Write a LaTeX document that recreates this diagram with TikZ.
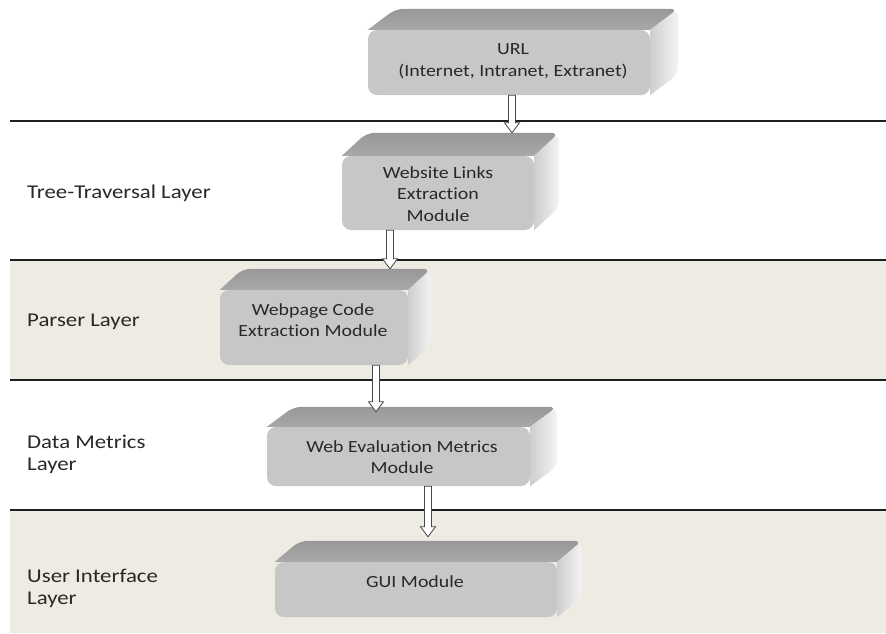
\documentclass[tikz,border=0pt]{standalone}
\usepackage{fontspec}
\setmainfont{Carlito}[FakeStretch=1.17, RawFeature={-liga}]
\usetikzlibrary{calc}
\pgfdeclarelayer{bands}
\pgfdeclarelayer{faces}
\pgfsetlayers{bands,faces,main}
\definecolor{bandfill}{RGB}{238,235,226}
\definecolor{frontgray}{RGB}{199,199,199}
\definecolor{topdark}{RGB}{152,152,152}
\definecolor{toplight}{RGB}{168,168,168}
\definecolor{sidein}{RGB}{206,206,206}
\definecolor{sideout}{RGB}{244,244,244}
\definecolor{inktext}{RGB}{40,40,40}

% bevelled 3D slab behind a front node: #1 node name, #2 depth x, #3 depth y
\newcommand\slabfaces[3]{%
  \begin{pgfonlayer}{faces}
    \path[top color=topdark, bottom color=toplight]
      (#1.north west) [rounded corners=8pt] -- ++(#2,-#3)
      -- ([shift={(#2,-#3)}]#1.north east) [sharp corners] -- (#1.north east) -- cycle;
    \path[left color=sidein, right color=sideout]
      (#1.north east) [rounded corners=8pt] -- ([shift={(#2,-#3)}]#1.north east)
      -- ([shift={(#2,-#3)}]#1.south east) [sharp corners] -- (#1.south east) -- cycle;
  \end{pgfonlayer}
  \coordinate (#1-back) at ([shift={(#2,-#3)}]#1.north);
}

\begin{document}
\begin{tikzpicture}[x=1pt,y=-1pt,
  rule/.style={draw=black!88, line width=1.3pt},
  layername/.style={anchor=west, align=left, inner sep=0pt,
    font=\fontsize{19.5}{22}\selectfont, text=inktext},
  slabfront/.style={fill=frontgray, rounded corners=9pt, inner sep=0pt},
  modtext/.style={align=center, inner sep=0pt,
    font=\fontsize{17}{21.5}\selectfont, text=inktext},
  hollow/.style={draw=black!72, fill=white, line width=0.8pt, line join=miter,
    to path={let \p1=(\tikztostart), \p2=(\tikztotarget) in
      (\x1-3.5pt,\y1) -- (\x1-3.5pt,\y2+10pt) -- (\x1-7.5pt,\y2+10pt)
      -- (\x1,\y2) -- (\x1+7.5pt,\y2+10pt) -- (\x1+3.5pt,\y2+10pt)
      -- (\x1+3.5pt,\y1) -- cycle}}
]
\useasboundingbox (0,0) rectangle (886,633);

% layer bands and separating rules
\begin{pgfonlayer}{bands}
  \fill[white] (0,0) rectangle (886,633);
  \fill[bandfill] (10,260) rectangle (886,380);
  \fill[bandfill] (10,510) rectangle (886,633);
  \draw[rule] (10,121) -- (886,121);
  \draw[rule] (10,260) -- (886,260);
  \draw[rule] (10,380) -- (886,380);
  \draw[rule] (10,510) -- (886,510);
\end{pgfonlayer}

% layer names
\node[layername] (lay-tree) at (27,193) {Tree-Traversal Layer};
\node[layername] (lay-parse) at (27,322) {Parser Layer};
\node[layername] (lay-data) at (27,454) {Data Metrics\\Layer};
\node[layername] (lay-ui) at (27,588) {User Interface\\Layer};

% module slabs
\node[slabfront, minimum width=282pt, minimum height=65pt] (url) at (509,62.5) {};
\slabfaces{url}{28}{21}
\node[modtext] (url-text) at (513,61) {URL\\(Internet, Intranet, Extranet)};

\node[slabfront, minimum width=192pt, minimum height=74pt] (wl) at (438,193) {};
\slabfaces{wl}{25}{23}
\node[modtext] (wl-text) at (438,194) {Website Links\\Extraction\\Module};

\node[slabfront, minimum width=188pt, minimum height=75pt] (wp) at (314,327.5) {};
\slabfaces{wp}{23}{21}
\node[modtext] (wp-text) at (313,320) {Webpage Code\\Extraction Module};

\node[slabfront, minimum width=263pt, minimum height=59pt] (we) at (398.5,456.5) {};
\slabfaces{we}{27}{20}
\node[modtext] (we-text) at (402,457) {Web Evaluation Metrics\\Module};

\node[slabfront, minimum width=282pt, minimum height=55pt] (gui) at (416,589.5) {};
\slabfaces{gui}{25}{21}
\node[modtext] (gui-text) at (415,582) {GUI Module};

% hollow flow arrows between modules
\coordinate (ax1) at (512,0);
\coordinate (ax2) at (390,0);
\coordinate (ax3) at (376,0);
\coordinate (ax4) at (428,0);
\coordinate (we-tip) at ([yshift=-5pt]we-back);
\coordinate (gui-tip) at ([yshift=4pt]gui-back);
\draw[hollow] (url.south -| ax1) to (wl-back -| ax1);
\draw[hollow] (wl.south -| ax2) to (wp-back -| ax2);
\draw[hollow] (wp.south -| ax3) to (we-tip -| ax3);
\draw[hollow] (we.south -| ax4) to (gui-tip -| ax4);
\end{tikzpicture}
\end{document}
